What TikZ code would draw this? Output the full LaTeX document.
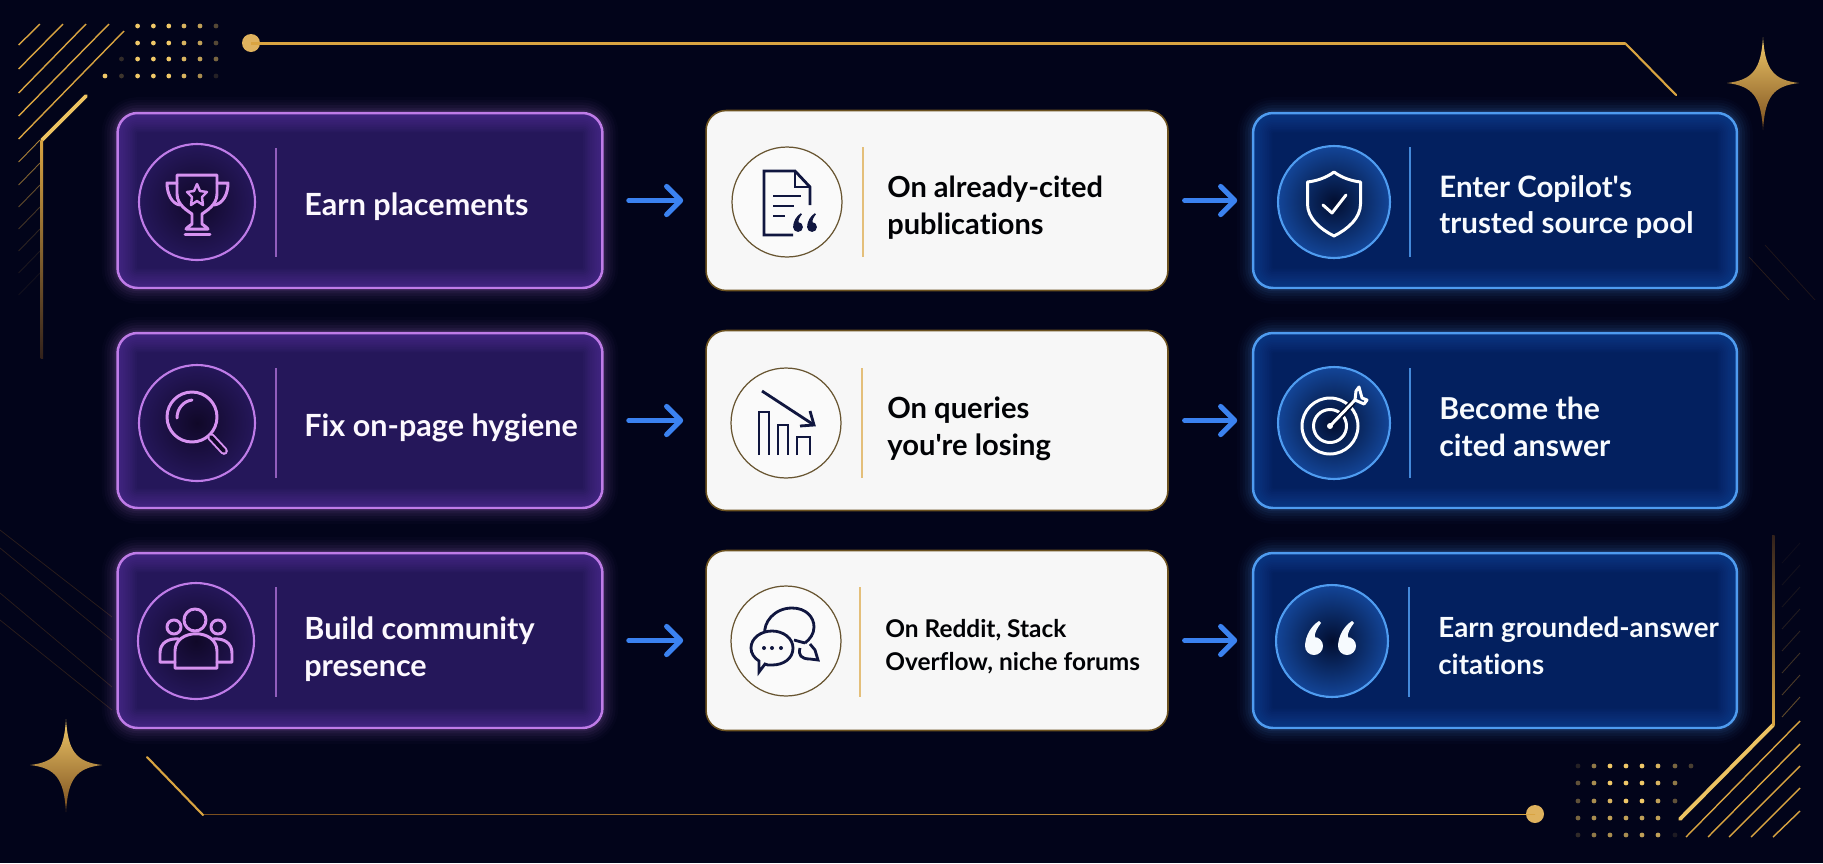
\documentclass[tikz,border=0pt]{standalone}
\usepackage{fontspec}
\setmainfont{Lato}[Ligatures={NoCommon}]
\usepackage{tikz}
\usetikzlibrary{arrows.meta}

\definecolor{bgnavy}{HTML}{02041A}
\definecolor{goldhi}{HTML}{F0C868}
\definecolor{goldmid}{HTML}{D9A441}
\definecolor{golddim}{HTML}{7A4E1E}
\definecolor{purpleline}{HTML}{BF7CE8}
\definecolor{purpleicon}{HTML}{D692F0}
\definecolor{purplefill}{HTML}{25175A}
\definecolor{purpleedge}{HTML}{6A3FB5}
\definecolor{purpledark}{HTML}{100828}
\definecolor{blueline}{HTML}{4F9CF0}
\definecolor{bluefill}{HTML}{03205F}
\definecolor{blueedge}{HTML}{1A55B0}
\definecolor{bluedark}{HTML}{020E30}
\definecolor{arrowblue}{HTML}{3B82F0}
\definecolor{inknavy}{HTML}{10163F}

\tikzset{
  innerglow/.style={path picture={\foreach \w in {2,4,...,22}{\draw[color=#1,opacity=.055,line width=\w pt,rounded corners=.4cm] (path picture bounding box.north west) rectangle (path picture bounding box.south east);}}},
  outerglow/.style={preaction={draw=#1,draw opacity=.02,line width=18pt,rounded corners=.4cm},preaction={draw=#1,draw opacity=.03,line width=15pt,rounded corners=.4cm},preaction={draw=#1,draw opacity=.035,line width=12pt,rounded corners=.4cm},preaction={draw=#1,draw opacity=.05,line width=9pt,rounded corners=.4cm},preaction={draw=#1,draw opacity=.06,line width=6pt,rounded corners=.4cm},preaction={draw=#1,draw opacity=.08,line width=3.5pt,rounded corners=.4cm}},
  card/.style={rectangle,rounded corners=.4cm,inner sep=0pt,outer sep=0pt,minimum width=9.7cm,minimum height=3.5cm},
  purplecard/.style={card,fill=purplefill,draw=purpleline,line width=1.4pt,outerglow=purpleline,innerglow=purpleedge},
  bluecard/.style={card,fill=bluefill,draw=blueline,line width=1.4pt,minimum width=9.68cm,outerglow=blueline,innerglow=blueedge},
  whitecard/.style={card,fill=white!97!black,draw=goldmid!50!black,line width=.9pt,minimum width=9.24cm,minimum height=3.6cm},
  disc/.style={circle,inner sep=0pt,outer sep=0pt,minimum size=#1*.04cm},
  purpledisc/.style={disc=58,inner color=purpledark,outer color=purplefill,draw=purpleline,line width=1.2pt},
  bluedisc/.style={disc=56,inner color=bluedark,outer color=blueedge!70!bluefill,draw=blueline,line width=1.2pt},
  whitedisc/.style={disc=55,fill=white!98!black,draw=goldmid!45!black!80!gray,line width=.7pt},
  purplerule/.style={draw=purpleline!70!purplefill,line width=.9pt},
  bluerule/.style={draw=blueline!85!bluefill,line width=.9pt},
  whiterule/.style={draw=goldmid!70!white,line width=.9pt},
  purplesym/.style={draw=purpleicon,line width=1.7pt,line join=round,line cap=round},
  whitesym/.style={draw=white,line width=1.7pt,line join=round,line cap=round},
  navysym/.style={draw=inknavy,line width=1.6pt,line join=miter},
  cardtext/.style={anchor=west,align=left,inner sep=0pt,font=\bfseries\fontsize{#1}{21}\selectfont},
  smalltext/.style={anchor=west,align=left,inner sep=0pt,font=\bfseries\fontsize{13.9}{18.7}\selectfont},
  flowarrow/.style={draw=arrowblue,line width=2.9pt,line cap=round,-{Straight Barb[length=8pt,width=16pt,round]}},
  outerflow/.style={flowarrow,shorten <=15pt,shorten >=13pt},
  innerflow/.style={flowarrow,shorten <=9.5pt,shorten >=9pt},
  golddot/.style={circle,inner sep=0pt,outer sep=0pt,minimum size=.36cm,fill=goldmid!85!white},
  sparkle/.pic={\shade[top color=goldhi,middle color=goldmid,bottom color=golddim] (0,-46) .. controls (2,-14) and (10,-3) .. (36,0) .. controls (10,3) and (2,14) .. (0,47) .. controls (-2,14) and (-10,3) .. (-36,0) .. controls (-10,-3) and (-2,-14) .. (0,-46) -- cycle;},
  quotemark/.pic={\fill[pic actions] (0,0) circle[radius=9] (-9,1) .. controls (-9,-10) and (-3,-20) .. (5,-25) -- (7,-23) .. controls (3,-18) and (0,-12) .. (1,-9) -- cycle;}
}

\begin{document}
\begin{tikzpicture}[x=.02cm,y=-.02cm]
\useasboundingbox (0,0) rectangle (1823,863);
\fill[bgnavy] (0,0) rectangle (1823,863);

% faint corner lines
\foreach \a/\b/\o in {140/162/.8,163/185/.6,185/207/.45,207/229/.3,229/251/.2,251/273/.12,273/295/.08}
  \draw[color=goldmid,opacity=\o,line width=.5pt] (18.6,\b) -- (40,\a);
\foreach \s/\e in {530/617,548/640,593/687,620/710}
  \draw[color=golddim,opacity=.35,line width=.4pt] (0,\s) -- (112,\e);
\draw[color=golddim,opacity=.35,line width=.4pt] (1749,257) -- (1789,300);
\draw[color=golddim,opacity=.25,line width=.4pt] (1765,245) -- (1815,300);
\foreach \a/\c/\o in {717/697/.45,695/675/.35,673/653/.28,651/631/.2,629/609/.15,607/587/.1,585/565/.08,563/543/.06}
  \draw[color=goldmid,opacity=\o,line width=.5pt] (1782,\a) -- (1800,\c);

% top left hatch
\foreach \a/\b/\c in {45/40/24,69/63/24,93/86/24,116/109/24,139/124/31}
  \draw[color=goldmid,line width=.8pt] (18.6,\a) -- (\b,\c);
% bottom right hatch
\foreach \a/\c in {1686/721,1708/744,1729/766,1751/788,1773/811}
  \draw[color=goldmid,line width=.8pt] (\a,837) -- (1800,\c);

% dots
\foreach \y in {26,43}
  \foreach \x/\o in {137.6/1,153.4/1,168.8/1,184/.9,200/.8,216/.35}
    \fill[color=goldhi,opacity=\o] (\x,\y) circle[radius=2.4];
\foreach \x/\o in {121.5/.2,137.6/1,153.4/1,168.8/1,184/.9,200/.8,216/.5}
  \fill[color=goldhi,opacity=\o] (\x,59) circle[radius=2.4];
\foreach \x/\o in {105/1,121.5/.25,137.6/1,153.4/1,168.8/1,184/.9,200/.7,216/.15}
  \fill[color=goldhi,opacity=\o] (\x,76) circle[radius=2.4];
\foreach \x/\o in {1578/.15,1594/.6,1610/1,1626/1,1642/1,1658/.9,1675/.5,1691/.3}
  \fill[color=goldhi,opacity=\o] (\x,766) circle[radius=2.4];
\foreach \x/\o in {1578/.4,1594/.7,1610/1,1626/1,1642/1,1658/.9,1675/.6}
  \fill[color=goldhi,opacity=\o] (\x,783) circle[radius=2.4];
\foreach \x/\o in {1578/.4,1594/.7,1610/.9,1626/1,1642/1,1658/.8,1675/.4}
  \fill[color=goldhi,opacity=\o] (\x,801) circle[radius=2.4];
\foreach \x/\o in {1578/.5,1594/.7,1610/.8,1626/.8,1642/.8,1658/.8}
  \fill[color=goldhi,opacity=\o] (\x,818) circle[radius=2.4];
\foreach \x/\o in {1578/.2,1594/.6,1610/.7,1626/.7,1642/.8,1658/.8,1675/.12}
  \fill[color=goldhi,opacity=\o] (\x,835) circle[radius=2.4];

% frame lines
\node[golddot] (topdot) at (251,43) {};
\node[golddot] (botdot) at (1535,814) {};
\coordinate (topbend) at (1625,44);
\coordinate (topend) at (1676,95);
\coordinate (botbend) at (203,816);
\coordinate (botend) at (147,757);
\coordinate (leftbend) at (42,140);
\coordinate (lefttip) at (86,96);
\coordinate (leftend) at (43,358);
\coordinate (rightbend) at (1773,725);
\coordinate (righttip) at (1680,819);
\coordinate (rightend) at (1772,535);
\shade[left color=goldmid,middle color=golddim,right color=goldmid] (topdot.center) ++(0,-1) rectangle (topbend);
\draw[goldmid,line width=1.2pt,line cap=round] (topbend) ++(0,-1) -- (topend);
\shade[left color=golddim,right color=goldmid] (botbend) ++(0,-2) rectangle (botdot.center);
\draw[goldmid,line width=1.2pt,line cap=round] (botbend) ++(0,-1) -- (botend);
\draw[goldhi!85!goldmid,line width=2.2pt,line cap=round] (leftbend) -- (lefttip);
\shade[top color=goldmid,bottom color=golddim!40!bgnavy] (leftbend) ++(-1.5,0) rectangle (leftend);
\draw[goldhi!85!goldmid,line width=2.2pt,line cap=round] (rightbend) -- (righttip);
\shade[bottom color=goldmid,top color=golddim!40!bgnavy] (rightbend) ++(1.5,0) rectangle (rightend);

\pic at (1763,83) {sparkle};
\pic at (66,765) {sparkle};

% cards
\node[purplecard] (earn) at (360,200.5) {};
\node[purplecard] (fix) at (360,420.5) {};
\node[purplecard] (build) at (360,640.5) {};
\node[whitecard] (cited) at (937,200.5) {};
\node[whitecard] (queries) at (937,420.5) {};
\node[whitecard] (reddit) at (937,640.5) {};
\node[bluecard] (pool) at (1495,200.5) {};
\node[bluecard] (answer) at (1495,420.5) {};
\node[bluecard] (grounded) at (1495,640.5) {};

% arrows
\draw[outerflow] (earn) -- (cited);
\draw[outerflow] (fix) -- (queries);
\draw[outerflow] (build) -- (reddit);
\draw[innerflow] (cited) -- (pool);
\draw[innerflow] (queries) -- (answer);
\draw[innerflow] (reddit) -- (grounded);

% circles
\node[purpledisc] (earndisc) at (197,202) {};
\node[purpledisc] (fixdisc) at (197,423) {};
\node[purpledisc] (builddisc) at (196,641) {};
\node[whitedisc] (citeddisc) at (787,202) {};
\node[whitedisc] (queriesdisc) at (786,423) {};
\node[whitedisc] (redditdisc) at (786,641) {};
\node[bluedisc] (pooldisc) at (1334,202) {};
\node[bluedisc] (answerdisc) at (1334,423) {};
\node[bluedisc] (groundeddisc) at (1332,641) {};

% rules
\draw[purplerule] (276,148) -- (276,257);
\draw[purplerule] (276,368) -- (276,478);
\draw[purplerule] (276,587) -- (276,697);
\draw[whiterule] (863,147) -- (863,257);
\draw[whiterule] (862,368) -- (862,478);
\draw[whiterule] (860,587) -- (860,697);
\draw[bluerule] (1410,147) -- (1410,257);
\draw[bluerule] (1410,368) -- (1410,478);
\draw[bluerule] (1409,587) -- (1409,697);

% texts
\node[cardtext=17.4,text=white!94!purpleicon] (earntext) at (304,207) {Earn placements};
\node[cardtext=17.4,text=white!94!purpleicon] (fixtext) at (304,428) {Fix on-page hygiene};
\node[cardtext=17.4,text=white!94!purpleicon] (buildtext) at (304,649.5) {Build community\\presence};
\node[cardtext=16.5,text=black!92!inknavy] (citedtext) at (887,208) {On already-cited\\publications};
\node[cardtext=16.6,text=black!92!inknavy] (queriestext) at (887,429) {On queries\\you\textquotesingle re losing};
\node[smalltext,text=black!92!inknavy] (reddittext) at (885,647) {On Reddit, Stack\\Overflow, niche forums};
\node[cardtext=16.8,text=white!96!blueline] (pooltext) at (1439,207) {Enter Copilot\textquotesingle s\\trusted source pool};
\node[cardtext=17.2,text=white!96!blueline] (answertext) at (1439,426.5) {Become the\\cited answer};
\node[cardtext=15.8,text=white!96!blueline] (groundedtext) at (1438,646) {Earn grounded-answer\\citations};

% trophy
\begin{scope}[shift={(197,202)},purplesym]
\draw (-20,-27) -- (20,-27) -- (20,-8) .. controls (20,3) and (9,9) .. (5,12) -- (5,22) -- (9,25) -- (11,27) -- (-11,27) -- (-9,25) -- (-5,22) -- (-5,12) .. controls (-9,9) and (-20,3) .. (-20,-8) -- cycle;
\draw (-12,32) -- (13,32);
\draw (-20,-19) -- (-30,-19) .. controls (-30,-8) and (-25,2) .. (-17,3);
\draw (20,-19) -- (31,-19) .. controls (31,-8) and (26,2) .. (17,3);
\draw[line width=1.4pt] (0,-18) -- ++(3,7) -- ++(7,1) -- ++(-5,5) -- ++(1,8) -- ++(-6,-4) -- ++(-6,4) -- ++(1,-8) -- ++(-5,-5) -- ++(7,-1) -- cycle;
\end{scope}

% magnifier
\begin{scope}[shift={(197,423)},purplesym]
\draw (-5,-6) circle[radius=25];
\draw (-20,-5) .. controls (-20,-15) and (-13,-22) .. (-5,-23);
\draw[line width=1.1pt,double=purpledark,double distance=2.2pt] (14,14) -- (27,28);
\end{scope}

% people
\begin{scope}[shift={(196,641)},purplesym]
\draw (-1,-21) circle[radius=11];
\draw (-22,-14) circle[radius=7];
\draw (22,-14) circle[radius=7];
\draw (-21,27) -- (21,27) -- (21,10) .. controls (21,-13) and (-21,-13) .. (-21,10) -- cycle;
\draw (-21,21) -- (-36,21) -- (-36,12) .. controls (-36,2) and (-28,-3) .. (-17,-2);
\draw (21,21) -- (36,21) -- (36,12) .. controls (36,2) and (28,-3) .. (17,-2);
\end{scope}

% document
\begin{scope}[shift={(787,202)},navysym]
\draw (6,33) -- (-23,33) -- (-23,-31) -- (8,-31) -- (23,-15) -- (23,3);
\draw (8,-31) -- (8,-15) -- (23,-15);
\draw (-14,-6) -- (14,-6);
\draw (-14,4) -- (7,4);
\draw (-14,14) -- (-2,14);
\pic[fill=inknavy,scale=.55] at (11,25) {quotemark};
\pic[fill=inknavy,scale=.55] at (25,25) {quotemark};
\end{scope}

% falling chart
\begin{scope}[shift={(786,423)},navysym]
\draw (-27,32) -- (-27,-11) -- (-17,-11) -- (-17,32);
\draw (-8,32) -- (-8,2) -- (2,2) -- (2,32);
\draw (11,32) -- (11,14) -- (24,14) -- (24,32);
\draw (-24,-32) -- (28,2);
\draw (24,-12) -- (28,2) -- (14,3);
\end{scope}

% chat
\begin{scope}[shift={(786,641)},navysym]
\draw (-21,-7) .. controls (-23,-18) and (-12,-33) .. (6,-33) .. controls (20,-33) and (28,-24) .. (28,-14) .. controls (28,-7) and (24,-2) .. (19,2);
\draw (19,2) -- (8,-1);
\draw[fill=white!98!black] (-35,7) .. controls (-35,-3) and (-25,-10) .. (-14,-10) .. controls (-3,-10) and (7,-3) .. (7,7) .. controls (7,18) and (-3,24) .. (-14,24) .. controls (-18,24) and (-20,24) .. (-21,23) -- (-27,31) -- (-27,20) .. controls (-32,17) and (-35,12) .. (-35,7) -- cycle;
\draw (14,7) .. controls (12,14) and (15,18) .. (24,18) -- (32,19) -- (29,9) -- (24,3);
\fill[inknavy] (-22,7) circle[radius=2] (-14,7) circle[radius=2] (-5,7) circle[radius=2];
\end{scope}

% shield
\begin{scope}[shift={(1334,202)},whitesym]
\draw (0,-30) .. controls (-8,-24) and (-18,-21) .. (-26.5,-20) -- (-26.5,2) .. controls (-26.5,16) and (-14,27) .. (0,34) .. controls (14,27) and (26.5,16) .. (26.5,2) -- (26.5,-20) .. controls (18,-21) and (8,-24) .. (0,-30) -- cycle;
\draw (-11,3) -- (-2,11) -- (12,-7);
\end{scope}

% target
\begin{scope}[shift={(1334,423)},whitesym]
\draw (-4,3) circle[radius=28];
\draw (-4,3) circle[radius=16.5];
\fill[white] (-4,3) circle[radius=3];
\draw[bluedark,line width=3.6pt,line cap=butt] (6,-7) -- (19,-21);
\draw (-4,3) -- (21,-23);
\draw (21,-23) -- (22,-32) -- (25,-36) -- (28,-25) -- (33,-23) -- (30,-19) -- (21,-23);
\end{scope}

% quotes
\pic[fill=white!95!blueline] at (1314,646) {quotemark};
\pic[fill=white!95!blueline] at (1347,646) {quotemark};
\end{tikzpicture}
\end{document}
